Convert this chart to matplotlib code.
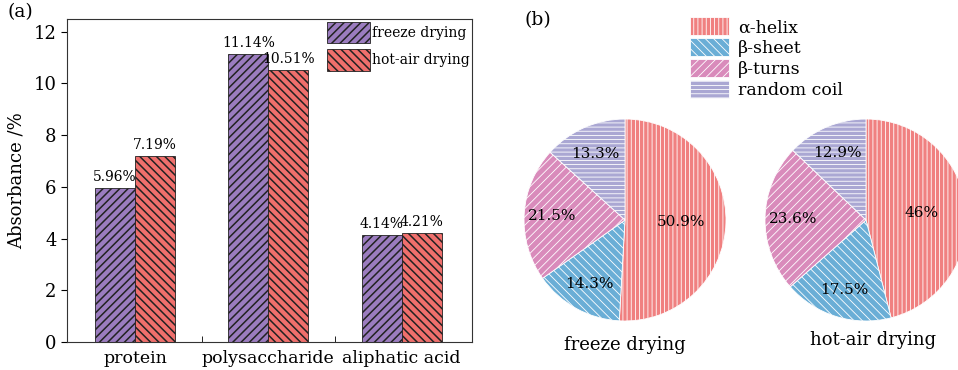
import numpy as np
import matplotlib
matplotlib.use("Agg")
import matplotlib.pyplot as plt
from matplotlib.patches import Patch

plt.rcParams["font.family"] = ["DejaVu Serif"]

# bar chart data
components = ["protein", "polysaccharide", "aliphatic acid"]
freeze_abs = [5.96, 11.14, 4.14]
hotair_abs = [7.19, 10.51, 4.21]

# secondary structure data
structures = ["\u03b1-helix", "\u03b2-sheet", "\u03b2-turns", "random coil"]
freeze_struct = [50.9, 14.3, 21.5, 13.3]
hotair_struct = [46.0, 17.5, 23.6, 12.9]

bar_colors = ["#9b7cbf", "#ef6f6c"]
pie_colors = ["#f08080", "#6aaed6", "#d98bbb", "#aaa7d3"]
pie_hatches = ["||||", "\\\\\\\\", "////", "----"]

fig = plt.figure(figsize=(9.58, 3.70), dpi=100)

# (a) bar chart
ax = fig.add_axes([0.070, 0.076, 0.423, 0.873])
x = np.arange(len(components))
w = 0.30
with plt.rc_context({"hatch.linewidth": 1.1}):
    b1 = ax.bar(x - w / 2, freeze_abs, w, color=bar_colors[0], edgecolor="#222222",
                linewidth=0.6, hatch="////", label="freeze drying")
    b2 = ax.bar(x + w / 2, hotair_abs, w, color=bar_colors[1], edgecolor="#222222",
                linewidth=0.6, hatch="\\\\\\\\", label="hot-air drying")
for bars, vals in ((b1, freeze_abs), (b2, hotair_abs)):
    for r, v in zip(bars, vals):
        ax.text(r.get_x() + r.get_width() / 2, v + 0.15, f"{v:.2f}%",
                ha="center", va="bottom", fontsize=10)

ax.set_xlim(-0.51, 2.53)
ax.set_ylim(0, 12.5)
ax.set_yticks(range(0, 13, 2))
ax.set_xticks(x)
ax.set_xticklabels(components, fontsize=12.5)
ax.tick_params(axis="x", length=0, pad=6)
ax.set_xticks([0.5, 1.5], minor=True)
ax.tick_params(axis="x", which="minor", direction="in", length=4)
ax.tick_params(axis="y", labelsize=13, length=4, width=0.8)
ax.set_ylabel("Absorbance /%", fontsize=13, labelpad=6)
for s in ax.spines.values():
    s.set_linewidth(0.8)
    s.set_color("#333333")
with plt.rc_context({"hatch.linewidth": 1.1}):
    ax.legend(loc="upper right", frameon=False, fontsize=10, handlelength=3.1,
              handleheight=2.0, handletextpad=0.15, borderaxespad=0.1,
              labelspacing=0.45, borderpad=0.1)
fig.text(0.008, 0.955, "(a)", fontsize=13.5)

# (b) pie charts
pax = fig.add_axes([500 / 958, 10 / 370, 458 / 958, 250 / 370])
scale = 101.0

centers = [(0, 0), (241 / scale, 0)]
with plt.rc_context({"hatch.linewidth": 0.6}):
    for vals, c in zip((freeze_struct, hotair_struct), centers):
        wedges, texts, autotexts = pax.pie(
            vals, colors=pie_colors, startangle=90, counterclock=False,
            center=c, radius=1.0, autopct=lambda p: f"{p:.3g}%",
            pctdistance=0.72, frame=True,
            wedgeprops=dict(edgecolor="white", linewidth=0.6),
            textprops=dict(fontsize=11))
        for wd, h in zip(wedges, pie_hatches):
            wd.set_hatch(h)
        # push the large slice label toward the centre
        tx, ty = autotexts[0].get_position()
        k = 0.55 / 0.72
        autotexts[0].set_position((c[0] + (tx - c[0]) * k, c[1] + (ty - c[1]) * k))
pax.set_xlim(-125 / scale, 333 / scale)
pax.set_ylim(-140 / scale, 110 / scale)
pax.axis("off")

pax.text(0, -125 / scale, "freeze drying", ha="center", va="center", fontsize=13)
pax.text(248 / scale, -120 / scale, "hot-air drying", ha="center", va="center", fontsize=13)

with plt.rc_context({"hatch.linewidth": 0.6}):
    handles = [Patch(facecolor=col, edgecolor="white", hatch=h, linewidth=0.6)
               for col, h in zip(pie_colors, pie_hatches)]
    fig.legend(handles, structures, loc="upper left",
               bbox_to_anchor=(680 / 958, 1 - 7 / 370),
               frameon=False, fontsize=12.5, handlelength=2.2, handleheight=1.2,
               handletextpad=0.55, labelspacing=0.12, borderpad=0.1)
fig.text(525 / 958, 1 - 25 / 370, "(b)", fontsize=13.5)

fig.savefig("out.png", dpi=100)
